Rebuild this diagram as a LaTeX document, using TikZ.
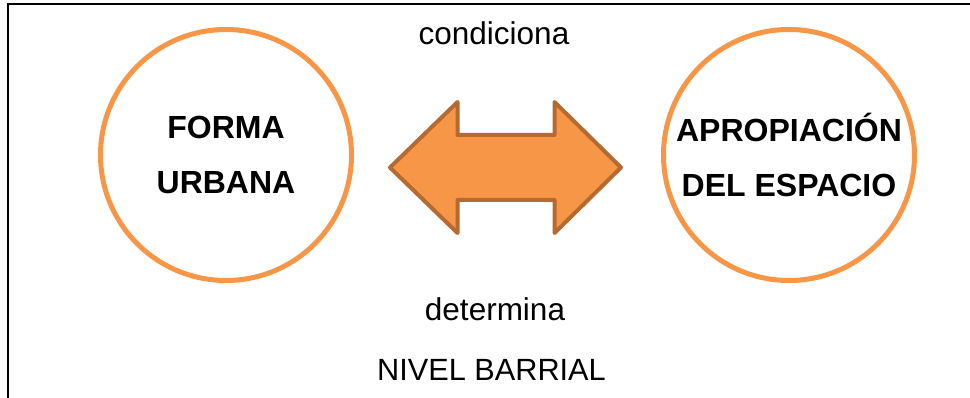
\documentclass[tikz,border=0pt]{standalone}
\usepackage{fontspec}
\setmainfont{Liberation Sans}
\definecolor{naranja}{HTML}{F79646}
\definecolor{naranjaosc}{HTML}{B46A30}

\begin{document}
\begin{tikzpicture}[
	x=1pt,y=-1pt,
	circulo/.style={circle,draw=naranja,line width=5pt,minimum size=251pt,inner sep=0pt,
		align=center,font=\fontsize{32}{55}\selectfont\bfseries},
	etiqueta/.style={anchor=base,inner sep=0pt,font=\fontsize{31.5}{36}\selectfont},
	flecha/.style={fill=naranja,draw=naranjaosc,line width=4pt,line join=round}]
\useasboundingbox (0,0) rectangle (970,398);
\draw[line width=2pt] (8,398) -- (8,4) -- (970,4);
\node[circulo] (forma) at (226,155) {FORMA\\URBANA};
\node[circulo] (apropiacion) at (789,155) {APROPIACIÓN\\DEL ESPACIO};
% doble flecha
\filldraw[flecha] (390,167.5) -- (457.5,102) -- (457.5,135) -- (554.5,135) -- (554.5,102)
	-- (621,167.5) -- (554.5,233) -- (554.5,200) -- (457.5,200) -- (457.5,233) -- cycle;
\node[etiqueta] (condiciona) at (494,45) {condiciona};
\node[etiqueta] (determina) at (495,320) {determina};
\node[etiqueta,font=\fontsize{30.7}{36}\selectfont] (nivel) at (491.5,380) {NIVEL BARRIAL};
\end{tikzpicture}
\end{document}
